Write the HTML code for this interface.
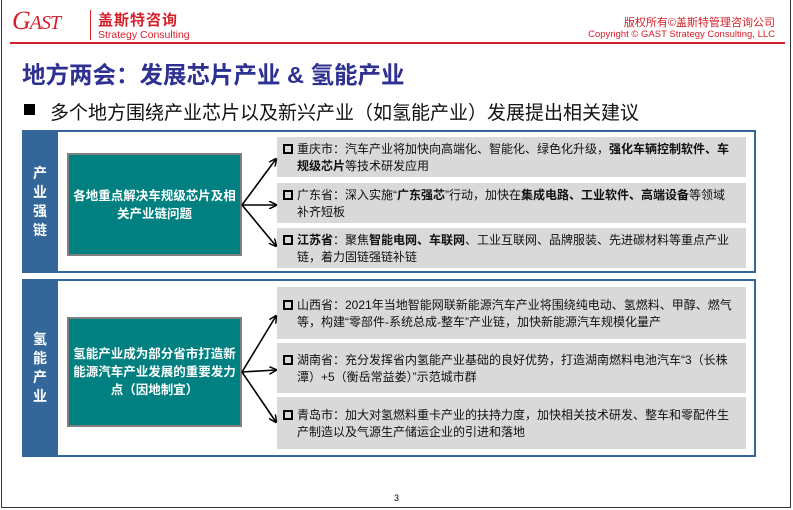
<!DOCTYPE html>
<html><head><meta charset="utf-8"><style>
*{margin:0;padding:0;box-sizing:border-box}
body{width:793px;height:510px;background:#fff;position:relative;overflow:hidden;font-family:"Liberation Sans","Noto Sans CJK SC",sans-serif}
.abs{position:absolute}
.frame{left:1px;top:-2px;width:790px;height:510px;border:1px solid #333}
.tab{background:#336699;color:#fff;font-weight:bold;font-size:14px;width:36px;text-align:center;line-height:19px;display:flex;align-items:center;justify-content:center}
.sec{border:2px solid #336699;border-left:none;background:#fff}
.teal{background:#008080;border:2px solid #808080;color:#fff;font-weight:bold;font-size:12.5px;line-height:18px;text-align:center;display:flex;align-items:center;justify-content:center;padding:0 2px}
.g{background:#d9d9d9;font-size:12px;line-height:17px;color:#111;padding:2px 14px 0 6px;display:flex;align-items:center}
.g > div{padding-left:14px;text-indent:-14px}
.c{display:inline-block;width:10px;height:10px;border:2px solid #000;margin-right:4px;vertical-align:-1px;text-indent:0}
.g b{font-weight:bold}
</style></head><body>
<div class="abs frame"></div>
<div class="abs" style="left:12px;top:6px;font:italic 26px 'Liberation Serif',serif;color:#d4202a;letter-spacing:-1px">G<span style="font-size:20px">AST</span></div>
<div class="abs" style="left:90px;top:10px;width:1px;height:30px;background:#d4202a"></div>
<div class="abs" style="left:98px;top:9px;font-size:15px;font-weight:bold;color:#d4202a;letter-spacing:1px">盖斯特咨询</div>
<div class="abs" style="left:98px;top:29px;font-size:10.5px;color:#d4202a">Strategy Consulting</div>
<div class="abs" style="right:18px;top:14px;font-size:11px;color:#d4202a">版权所有©盖斯特管理咨询公司</div>
<div class="abs" style="right:18px;top:29px;font-size:9.5px;color:#d4202a">Copyright © GAST Strategy Consulting, LLC</div>
<div class="abs" style="left:10px;top:42px;width:775px;height:2px;background:#d4202a"></div>
<div class="abs" style="left:22px;top:56px;font-size:23.5px;font-weight:bold;color:#2e3192">地方两会：发展芯片产业 &amp; 氢能产业</div>
<div class="abs" style="left:24px;top:104px;width:11px;height:11px;background:#000"></div>
<div class="abs" style="left:50px;top:98px;font-size:19px;color:#111">多个地方围绕产业芯片以及新兴产业（如氢能产业）发展提出相关建议</div>

<div class="abs sec" style="left:56px;top:130px;width:700px;height:143px"></div>
<div class="abs tab" style="left:22px;top:130px;height:143px">产<br>业<br>强<br>链</div>
<div class="abs teal" style="left:67px;top:153px;width:175px;height:103px">各地重点解决车规级芯片及相关产业链问题</div>
<div class="abs g" style="left:277px;top:137px;width:469px;height:40px"><div><span class="c"></span>重庆市：汽车产业将加快向高端化、智能化、绿色化升级，<b>强化车辆控制软件、车规级芯片</b>等技术研发应用</div></div>
<div class="abs g" style="left:277px;top:183px;width:469px;height:40px"><div><span class="c"></span>广东省：深入实施“<b>广东强芯</b>”行动，加快在<b>集成电路、工业软件、高端设备</b>等领域补齐短板</div></div>
<div class="abs g" style="left:277px;top:228px;width:469px;height:40px"><div><span class="c"></span><b>江苏省</b>：聚焦<b>智能电网、车联网</b>、工业互联网、品牌服装、先进碳材料等重点产业链，着力固链强链补链</div></div>

<div class="abs sec" style="left:56px;top:279px;width:700px;height:178px"></div>
<div class="abs tab" style="left:22px;top:279px;height:178px">氢<br>能<br>产<br>业</div>
<div class="abs teal" style="left:67px;top:317px;width:175px;height:110px">氢能产业成为部分省市打造新能源汽车产业发展的重要发力点（因地制宜）</div>
<div class="abs g" style="left:277px;top:287px;width:469px;height:52px"><div><span class="c"></span>山西省：2021年当地智能网联新能源汽车产业将围绕纯电动、氢燃料、甲醇、燃气等，构建“零部件-系统总成-整车”产业链，加快新能源汽车规模化量产</div></div>
<div class="abs g" style="left:277px;top:343px;width:469px;height:50px"><div><span class="c"></span>湖南省：充分发挥省内氢能产业基础的良好优势，打造湖南燃料电池汽车“3（长株潭）+5（衡岳常益娄）”示范城市群</div></div>
<div class="abs g" style="left:277px;top:397px;width:469px;height:52px"><div><span class="c"></span>青岛市：加大对氢燃料重卡产业的扶持力度，加快相关技术研发、整车和零配件生产制造以及气源生产储运企业的引进和落地</div></div>

<svg class="abs" style="left:0;top:0" width="793" height="510">
<defs><marker id="a" markerWidth="8" markerHeight="8" refX="7" refY="4" orient="auto" markerUnits="userSpaceOnUse"><path d="M0,0 L8,4 L0,8" fill="none" stroke="#000" stroke-width="1.5"/></marker></defs>
<g stroke="#000" stroke-width="1.6" fill="none" marker-end="url(#a)">
<line x1="242" y1="205" x2="276" y2="159"/>
<line x1="242" y1="205" x2="276" y2="205"/>
<line x1="242" y1="205" x2="276" y2="246"/>
<line x1="242" y1="372" x2="276" y2="316"/>
<line x1="242" y1="372" x2="276" y2="370"/>
<line x1="242" y1="372" x2="276" y2="422"/>
</g></svg>
<div class="abs" style="left:394px;top:493px;font-size:9px;color:#000">3</div>
</body></html>
